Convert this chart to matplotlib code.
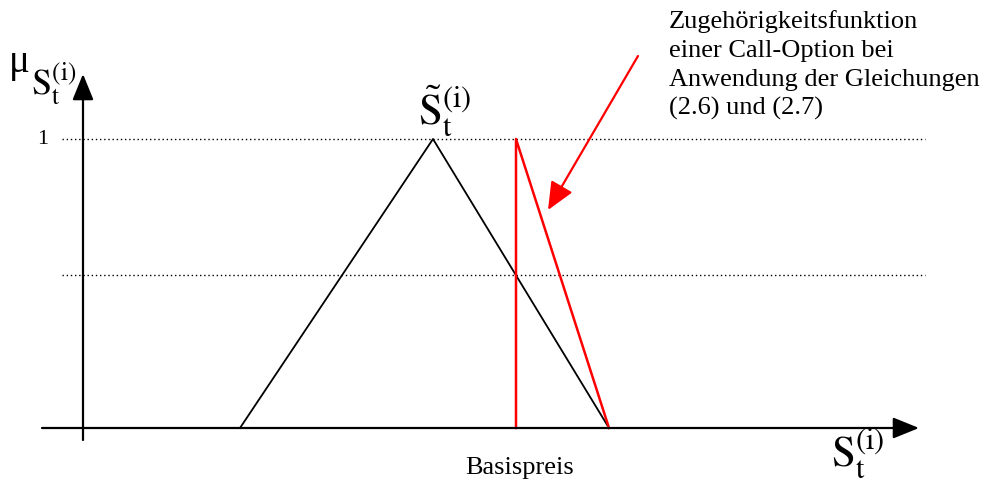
import matplotlib
matplotlib.use("Agg")
import matplotlib.pyplot as plt

plt.rcParams['font.family'] = ['Liberation Serif', 'DejaVu Serif']
plt.rcParams['mathtext.fontset'] = 'stix'

# membership function of the fuzzy price (triangle) on the S axis
tri_x = [240, 433, 609]
tri_mu = [0, 1, 0]
# call option membership (red): vertical at Basispreis, then down to right end
strike = 516
call_x = [strike, strike, 609]
call_mu = [0, 1, 0]
# dotted reference levels
levels = [1.0, 0.53]
level_x = [62, 925]

annot_lines = ["Zugehörigkeitsfunktion", "einer Call-Option bei",
               "Anwendung der Gleichungen", "(2.6) und (2.7)"]

fig = plt.figure(figsize=(9.86, 4.81), dpi=100)
ax = fig.add_axes([0, 0, 1, 1])
# x in drawing units, y in membership degree (mu=0 on the S axis, mu=1 at top)
ax.set_xlim(0, 986)
ax.set_ylim(-52 / 289, 429 / 289)
ax.axis('off')


def py(pix):
    # pixel row -> membership units, for placing labels
    return (429 - pix) / 289


for lv in levels:
    ax.plot(level_x, [lv, lv], color='black', lw=1.0, ls=(0, (1, 2)))

ax.plot(tri_x, tri_mu, color='black', lw=1.3)
ax.plot(call_x, call_mu, color='red', lw=1.8)

# axes with arrow heads
head = '-|>,head_length=1.6,head_width=0.65'
ax.annotate('', xy=(919, 0), xytext=(42, 0),
            arrowprops=dict(arrowstyle=head, color='black', lw=1.6,
                            shrinkA=0, shrinkB=0))
ax.annotate('', xy=(83, py(75)), xytext=(83, py(441)),
            arrowprops=dict(arrowstyle=head, color='black', lw=1.6,
                            shrinkA=0, shrinkB=0))

# red pointer arrow
ax.annotate('', xy=(548, py(211)), xytext=(638, py(57)),
            arrowprops=dict(arrowstyle='-|>,head_length=1.7,head_width=0.75',
                            color='red', lw=1.6, shrinkA=0, shrinkB=0))

# annotation, one line per baseline
for k, line in enumerate(annot_lines):
    ax.text(669, py(28 + 29 * k), line, fontsize=19, ha='left', va='baseline')

ax.text(48, 1.0, "1", fontsize=16, ha='right', va='center')
ax.text(520, py(474), "Basispreis", fontsize=19, ha='center', va='baseline')

ax.text(9, py(72), "μ", fontsize=28, ha='left', va='baseline')
ax.text(31, py(95), r'$\mathrm{S_t^{(i)}}$', fontsize=26, ha='left', va='baseline')
ax.text(418, py(125), r'$\mathrm{\tilde{S}_t^{(i)}}$', fontsize=31,
        ha='left', va='baseline')
ax.text(831, py(467), r'$\mathrm{S_t^{(i)}}$', fontsize=31, ha='left', va='baseline')

fig.savefig('out.png', dpi=100)
